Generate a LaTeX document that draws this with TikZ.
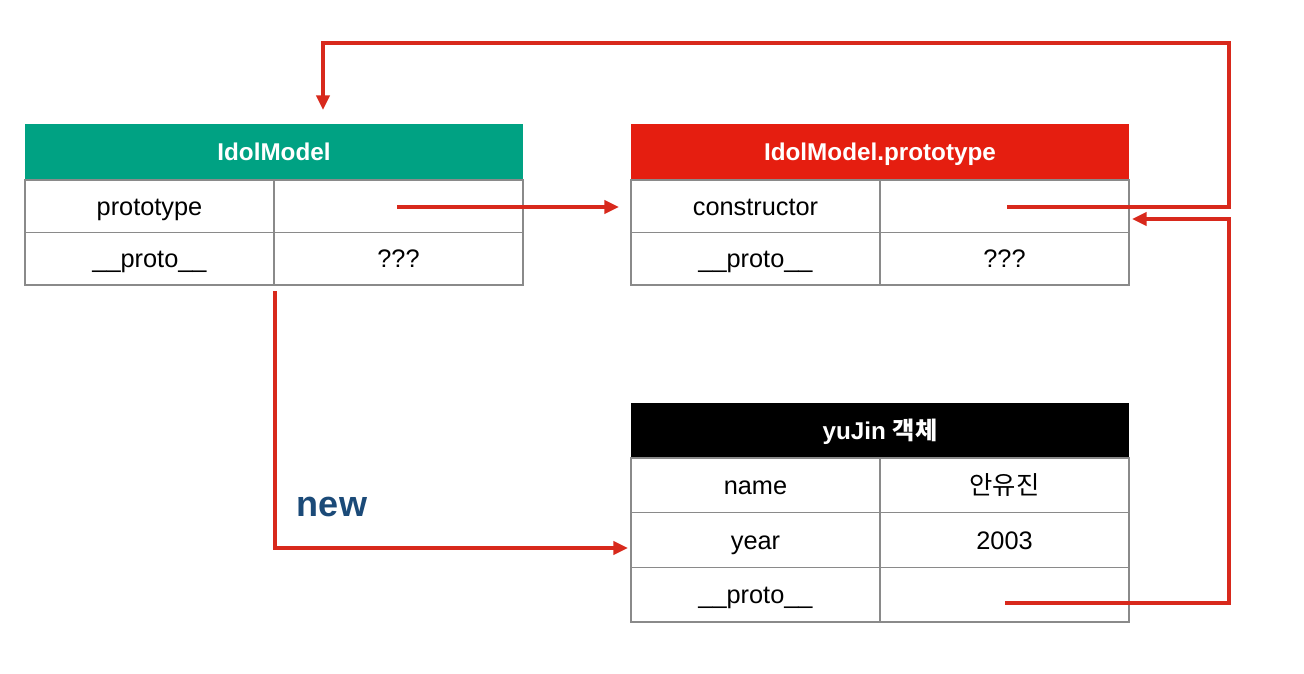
\documentclass[tikz,border=0pt]{standalone}
\usepackage{fontspec}
\setmainfont{Liberation Sans}
\newfontfamily\kr{Noto Sans CJK KR}
\usetikzlibrary{arrows.meta}
\definecolor{hgreen}{HTML}{00A283}
\definecolor{hred}{HTML}{E51E10}
\definecolor{ared}{HTML}{D8291C}
\definecolor{gridc}{HTML}{8A8A8A}
\definecolor{newblue}{HTML}{1B4A78}
\tikzset{
  cell/.style={draw=gridc, line width=0.9pt, minimum width=186.75pt, minimum height=39.4pt, inner sep=0pt, outer sep=0pt, text height=13.7pt, text depth=0pt, font=\fontsize{19}{22}\selectfont},
  ycell/.style={cell, minimum height=41pt},
  head/.style={minimum width=373.5pt, minimum height=42pt, inner sep=0pt, outer sep=0pt, text=white, text height=13.1pt, text depth=0pt, font=\fontsize{18.2}{21}\selectfont\bfseries},
  conn/.style={draw=ared, line width=2.5pt, -{Triangle[length=11pt,width=10pt]}}
}
\begin{document}
\begin{tikzpicture}[x=0.75pt,y=-0.75pt]
\useasboundingbox[fill=white] (0,0) rectangle (1304,674);
% IdolModel table
\node[head, fill=hgreen] (ih) at (274,152) {IdolModel};
\node[cell] (ip1) at (149.5,206.25) {prototype};
\node[cell] (ip2) at (398.5,206.25) {};
\node[cell] (ir1) at (149.5,258.75) {\_\_proto\_\_};
\node[cell] (ir2) at (398.5,258.75) {???};
% IdolModel.prototype table
\node[head, fill=hred] (ph) at (880,152) {IdolModel.prototype};
\node[cell] (pc1) at (755.5,206.25) {constructor};
\node[cell] (pc2) at (1004.5,206.25) {};
\node[cell] (pr1) at (755.5,258.75) {\_\_proto\_\_};
\node[cell] (pr2) at (1004.5,258.75) {???};
% yuJin table
\node[head, fill=black, minimum height=41.25pt] (yh) at (880,430.5) {yuJin {\kr 객체}};
\node[ycell] (yn1) at (755.5,485.33) {name};
\node[ycell] (yn2) at (1004.5,485.33) {\kr 안유진};
\node[ycell] (yy1) at (755.5,540) {year};
\node[ycell] (yy2) at (1004.5,540) {2003};
\node[ycell] (yp1) at (755.5,594.67) {\_\_proto\_\_};
\node[ycell] (yp2) at (1004.5,594.67) {};
% label
\node[text=newblue, font=\fontsize{27}{30}\selectfont\bfseries] (newl) at (332,507) {new};
% connector coordinates
\coordinate (a1s) at (1007,207);
\coordinate (a1e) at (323,110);
\coordinate (a2s) at (397,207);
\coordinate (a2e) at (619,207);
\coordinate (a3s) at (275,291);
\coordinate (a3e) at (628,548);
\coordinate (a4s) at (1005,603);
\coordinate (a4e) at (1132,219);
% connectors
\draw[conn] (a1s) -- (1229,207) -- (1229,43) -- (323,43) -- (a1e);
\draw[conn] (a2s) -- (a2e);
\draw[conn] (a3s) -- (275,548) -- (a3e);
\draw[conn] (a4s) -- (1229,603) -- (1229,219) -- (a4e);
\end{tikzpicture}
\end{document}
